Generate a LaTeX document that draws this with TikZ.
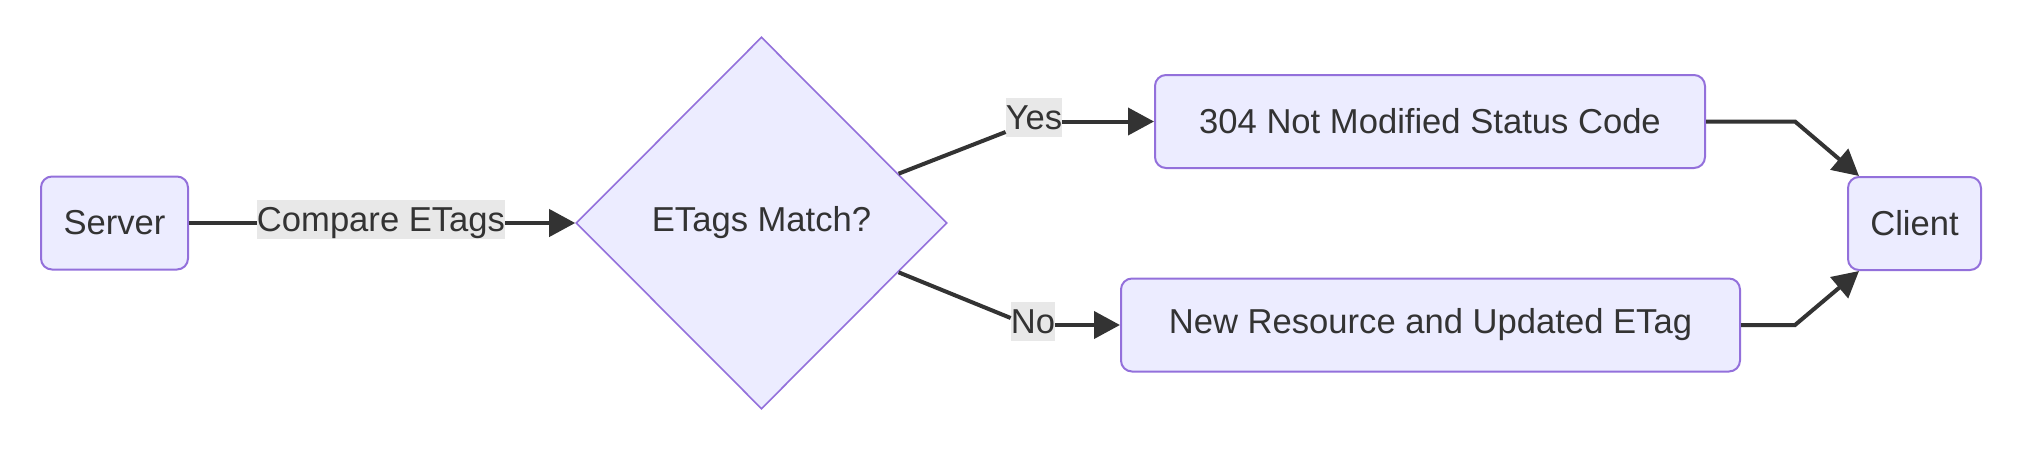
\documentclass[tikz,border=0pt]{standalone}
\usepackage{fontspec}
\setmainfont{Liberation Sans}
\usetikzlibrary{shapes.geometric,arrows.meta,calc}
\definecolor{nodefill}{HTML}{ECECFF}
\definecolor{nodeborder}{HTML}{9370DB}
\definecolor{edgecol}{HTML}{333333}
\definecolor{labelbg}{HTML}{E8E8E8}
\begin{document}
\begin{tikzpicture}[x=1pt,y=-1pt,
  every node/.style={font=\fontsize{34.6}{41}\selectfont, text=edgecol},
  box/.style={draw=nodeborder, fill=nodefill, line width=2pt, rounded corners=11pt, minimum height=93pt, inner sep=0pt},
  decision/.style={diamond, draw=nodeborder, fill=nodefill, line width=1.6pt, minimum width=371pt, minimum height=372pt, inner sep=0pt},
  elabel/.style={fill=labelbg, inner xsep=0pt, inner ysep=0pt, text height=31pt, text depth=7.5pt},
  edge/.style={draw=edgecol, line width=4pt},
  arr/.style={edge, -{Triangle[length=26pt,width=27pt]}}
]
\useasboundingbox (0,0) rectangle (2022,448);
\node[box, minimum width=147pt] (server) at (114.5,223) {Server};
\node[decision] (dec) at (761.5,223) {ETags Match?};
\node[box, minimum width=550pt] (n304) at (1430,121.5) {304 Not Modified Status Code};
\node[box, minimum width=619pt] (newres) at (1430.5,325) {New Resource and Updated ETag};
\node[box, minimum width=133pt] (client) at (1914.5,223.5) {Client};

\node[elabel] (cmp) at (381,219.5) {Compare ETags};
\node[elabel] (yes) at (1034,117.5) {Yes};
\node[elabel] (no) at (1033,321.5) {No};

\coordinate (decne) at ($(dec.east)!0.264!(dec.north)$);
\coordinate (decse) at ($(dec.east)!0.264!(dec.south)$);
\coordinate (bend1) at ($(n304.east)+(89,0)$);
\coordinate (bend2) at ($(newres.east)+(54,0)$);

\draw[edge] (server.east) -- (cmp.west |- server.east);
\draw[arr] (cmp.east |- dec.west) -- (dec.west);
\draw[edge] (decne) -- ([yshift=-14.5pt]yes.west);
\draw[arr] (yes.east |- n304.west) -- (n304.west);
\draw[edge] (decse) -- ([yshift=3.5pt]no.west);
\draw[arr] (no.east |- newres.west) -- (newres.west);
\draw[arr] (n304.east) -- (bend1) -- ([xshift=12pt]client.north west);
\draw[arr] (newres.east) -- (bend2) -- ([xshift=12pt]client.south west);
\end{tikzpicture}
\end{document}
